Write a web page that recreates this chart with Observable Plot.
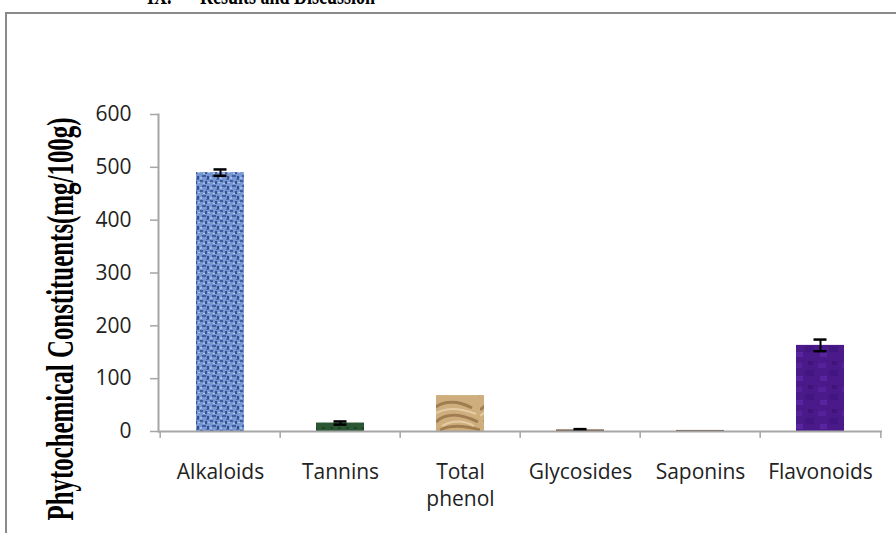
<!DOCTYPE html>
<html>
<head>
<meta charset="utf-8">
<script src="https://cdn.jsdelivr.net/npm/d3@7"></script>
<script src="https://cdn.jsdelivr.net/npm/@observablehq/plot@0.6"></script>
<style>
  html, body { margin: 0; padding: 0; background: #fff; overflow: hidden; }
  #wrap { position: relative; width: 896px; height: 533px; overflow: hidden; background: #fff; }
  #frame { position: absolute; left: 5px; top: 12px; width: 1000px; height: 1000px;
           border-left: 2px solid #8a8a8a; border-top: 2px solid #8a8a8a; box-sizing: border-box; }
  .head { position: absolute; font-family: "Liberation Serif", "Times New Roman", serif; font-weight: bold;
          font-size: 18px; line-height: 18px; top: -10px; color: #000; white-space: nowrap;
          transform-origin: 0 100%; transform: scaleY(1.4); }
  #chart { position: absolute; left: 0; top: 0; }
</style>
</head>
<body>
<div id="wrap">
  <div id="frame"></div>
  <div class="head" style="left:147px">IX.</div>
  <div class="head" style="left:200px">Results and Discussion</div>
  <div id="chart"></div>
</div>
<script>
const categories = ["Alkaloids", "Tannins", "Total phenol", "Glycosides", "Saponins", "Flavonoids"];
const values = [490, 16, 68, 3, 2, 163];
const errors = [6, 3, 0, 1.5, 0, 11];
const tickLabels = ["Alkaloids", "Tannins", "Total\nphenol", "Glycosides", "Saponins", "Flavonoids"];
const yTicks = [0, 100, 200, 300, 400, 500, 600];
const yTitle = "Phytochemical Constituents(mg/100g)";

// bar fills (patterns defined below)
const fills = ["url(#pAlk)", "url(#pTan)", "url(#pPhe)", "url(#pBrn)", "url(#pBrn)", "url(#pFla)"];

const data = categories.map((c, i) => ({cat: c, value: values[i], err: errors[i], fill: fills[i]}));
const errData = data.filter(d => d.err > 0);
const labelOf = new Map(categories.map((c, i) => [c, tickLabels[i]]));

const W = 896, H = 533, mL = 158, mR = 14;
const bw = (W - mL - mR) / categories.length;
const axisGrey = "#a6a6a6";

const chart = Plot.plot({
  width: W, height: H,
  marginTop: 114, marginBottom: 102, marginLeft: mL, marginRight: mR,
  x: {domain: categories, padding: 0, axis: null},
  y: {domain: [0, 600], axis: null},
  color: {type: "identity"},
  style: {fontFamily: "'Open Sans', sans-serif", fontSize: "21px", color: "#222", background: "transparent", overflow: "visible"},
  marks: [
    Plot.barY(data, {x: "cat", y: "value", fill: "fill", insetLeft: 36, insetRight: 36}),
    Plot.ruleX(errData, {x: "cat", y1: d => d.value - d.err, y2: d => d.value + d.err, stroke: "#000", strokeWidth: 2}),
    Plot.tickY(errData, {x: "cat", y: d => d.value + d.err, insetLeft: 53.5, insetRight: 53.5, stroke: "#000", strokeWidth: 2.5}),
    Plot.tickY(errData, {x: "cat", y: d => d.value - d.err, insetLeft: 53.5, insetRight: 53.5, stroke: "#000", strokeWidth: 2.5}),
    Plot.ruleY([0], {stroke: axisGrey, strokeWidth: 2}),
    Plot.frame({anchor: "left", stroke: axisGrey, strokeWidth: 2}),
    Plot.axisY({ticks: yTicks, tickSize: 8, tickPadding: 19, stroke: axisGrey, strokeWidth: 1.5, label: null, fill: "#222", style: {letterSpacing: "1px"}}),
    // category boundary ticks
    Plot.axisX({tickSize: 7, dx: -bw / 2, tickFormat: () => "", stroke: axisGrey, strokeWidth: 1.5, label: null}),
    Plot.axisX({ticks: [categories[categories.length - 1]], tickSize: 7, dx: bw / 2, tickFormat: () => "", stroke: axisGrey, strokeWidth: 1.5, label: null}),
    // category labels
    Plot.axisX({tickSize: 0, tickPadding: 28, tickFormat: d => labelOf.get(d), lineHeight: 1.29, fill: "#222", label: null, style: {letterSpacing: "1px"}})
  ]
});

const svg = d3.select(chart);
const defs = svg.insert("defs", ":first-child");

// Alkaloids: blue woven texture
const pA = defs.append("pattern").attr("id", "pAlk").attr("patternUnits", "userSpaceOnUse").attr("width", 10).attr("height", 10);
pA.append("rect").attr("width", 10).attr("height", 10).attr("fill", "#7896d2");
[[0,0,3,2,"#3b5c9e"],[5,1,2,3,"#34548f"],[2,5,4,2,"#3f60a3"],[7,6,2,3,"#2f4f8f"],[3,3,2,1,"#b2c6ee"],[8,2,2,1,"#a9c0ea"],[0,7,2,2,"#a2bae6"],[6,9,3,1,"#4a6bad"]].forEach(([x,y,w,h,c]) =>
  pA.append("rect").attr("x", x).attr("y", y).attr("width", w).attr("height", h).attr("fill", c));

// Tannins: dark green
const pT = defs.append("pattern").attr("id", "pTan").attr("patternUnits", "userSpaceOnUse").attr("width", 8).attr("height", 6);
pT.append("rect").attr("width", 8).attr("height", 6).attr("fill", "#2a5633");
pT.append("rect").attr("x", 2).attr("y", 1).attr("width", 3).attr("height", 2).attr("fill", "#1f4527");

// Total phenol: tan swirl
const pP = defs.append("pattern").attr("id", "pPhe").attr("patternUnits", "userSpaceOnUse").attr("width", 48).attr("height", 36);
pP.append("rect").attr("width", 48).attr("height", 36).attr("fill", "#cfae7e");
pP.append("path").attr("d", "M0,14 C10,4 26,4 40,12 M4,26 C14,16 30,18 46,26 M8,34 C20,28 34,30 48,34").attr("fill", "none").attr("stroke", "#9f7d50").attr("stroke-width", 3);
pP.append("path").attr("d", "M0,20 C12,10 28,12 44,18 M10,30 C20,24 32,24 42,30").attr("fill", "none").attr("stroke", "#e4cda4").attr("stroke-width", 2);

// Glycosides / Saponins: brown
const pB = defs.append("pattern").attr("id", "pBrn").attr("patternUnits", "userSpaceOnUse").attr("width", 6).attr("height", 6);
pB.append("rect").attr("width", 6).attr("height", 6).attr("fill", "#6e4e34");

// Flavonoids: purple mottled
const pF = defs.append("pattern").attr("id", "pFla").attr("patternUnits", "userSpaceOnUse").attr("width", 24).attr("height", 24);
pF.append("rect").attr("width", 24).attr("height", 24).attr("fill", "#4b1a8a");
[[2,3,8,5,"#56209a"],[13,10,9,6,"#421680"],[4,16,7,5,"#5a24a0"],[16,1,5,4,"#3f1478"]].forEach(([x,y,w,h,c]) =>
  pF.append("rect").attr("x", x).attr("y", y).attr("width", w).attr("height", h).attr("fill", c));

// rotated y-axis title
svg.append("text")
  .attr("transform", "translate(73,319) rotate(-90) scale(1,1.5)")
  .attr("text-anchor", "middle")
  .attr("font-family", "'Liberation Serif', 'Times New Roman', serif")
  .attr("font-weight", "bold")
  .attr("font-size", 24.9)
  .attr("fill", "#000")
  .text(yTitle);

document.getElementById("chart").appendChild(chart);
</script>
</body>
</html>
